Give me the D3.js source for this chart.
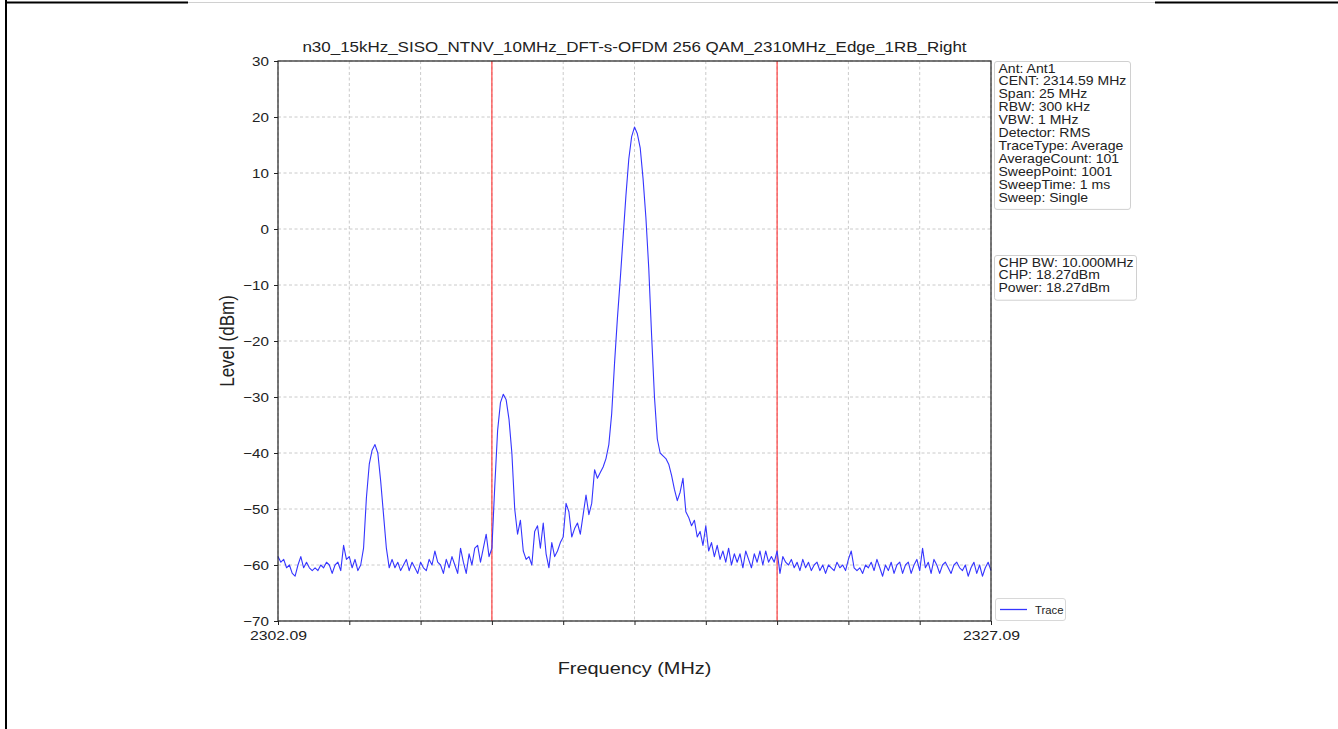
<!DOCTYPE html>
<html>
<head>
<meta charset="utf-8">
<script src="https://cdn.jsdelivr.net/npm/d3@7"></script>
<style>
  html, body { margin: 0; padding: 0; background: #ffffff; }
  svg { display: block; font-family: "Liberation Sans", Arial, sans-serif; }
</style>
</head>
<body>
<svg id="chart" width="1338" height="729"></svg>
<script>
// ---------------- data ----------------
const chartTitle = "n30_15kHz_SISO_NTNV_10MHz_DFT-s-OFDM 256 QAM_2310MHz_Edge_1RB_Right";
const sweepStart = 2302.09;   // MHz
const sweepStop = 2327.09;    // MHz
const yDomain = [-70, 30];
const yTickValues = [-70, -60, -50, -40, -30, -20, -10, 0, 10, 20, 30];
const xTickValues = [2302.09, 2304.59, 2307.09, 2309.59, 2312.09, 2314.59, 2317.09, 2319.59, 2322.09, 2324.59, 2327.09];
const xTickLabels = ["2302.09", "", "", "", "", "", "", "", "", "", "2327.09"];
const channelEdges = [2309.59, 2319.59];   // red lines
const traceLevels = [
  -58.5, -59.5, -59, -60.5, -60, -61.5, -62, -60, -58.5, -60.5,
  -59.5, -60.5, -61, -60.5, -61, -60, -60.5, -59.5, -60, -61.5,
  -60, -59.5, -61, -56.5, -59, -58.5, -60.5, -59, -61, -60,
  -57, -48, -42, -39.5, -38.5, -40, -45, -51, -57, -60.5,
  -59, -60.5, -59.5, -61, -60, -59, -61, -59.5, -60.5, -61.5,
  -59.5, -60.5, -61, -59, -60, -57.5, -59.5, -60, -61.5, -59,
  -60.5, -58.5, -60, -61.5, -57, -59.5, -61.5, -58, -60, -57,
  -56.5, -59.5, -57, -54.5, -58.5, -57, -46, -36, -31, -29.5,
  -30.5, -34, -40, -50, -54.5, -52, -57.5, -59, -58.5, -60,
  -54, -53, -57, -52.5, -58, -60.5, -56, -58.5, -57.5, -56,
  -55, -49, -50.5, -55, -53.5, -52.5, -54.5, -51, -47.5, -51,
  -49, -43, -44.5, -43.5, -42.5, -41, -38.5, -33, -24, -16,
  -9, -1.5, 6, 12.5, 16.5, 18.2, 17, 14.5, 9, 2,
  -7, -19, -30, -37.5, -40, -40.5, -41, -42, -44, -46.5,
  -48.5, -47, -44.5, -50.5, -51.5, -53, -52, -55, -54, -56.5,
  -53, -57.5, -56, -58.5, -56.5, -59, -57.5, -59.5, -57, -60,
  -58, -59.5, -58, -60.5, -57.5, -59, -60.5, -58, -59.5, -57.5,
  -60, -57.5, -59.5, -58.5, -59.5, -57.5, -61.5, -58.5, -59.5, -60,
  -59, -60.5, -59.5, -61, -59, -60.5, -59.5, -61, -60, -59.5,
  -61, -60, -61.5, -60, -60.5, -61, -59.5, -60.5, -60, -61,
  -59, -57.5, -60.5, -61, -60.5, -61.5, -60, -60.5, -59.5, -61,
  -59, -60.5, -62, -60, -61, -59.5, -61.5, -60, -59.5, -61.5,
  -60, -59.5, -61.5, -60, -59, -61, -57, -60.5, -59.5, -61.5,
  -59, -60, -61.5, -60, -59.5, -60.5, -61.5, -60, -59.5, -60.5,
  -61, -60, -62, -60.5, -59.5, -61.5, -60, -62, -60.5, -59.5,
  -61
];
const infoLines = [
  "Ant: Ant1", "CENT: 2314.59 MHz", "Span: 25 MHz", "RBW: 300 kHz", "VBW: 1 MHz",
  "Detector: RMS", "TraceType: Average", "AverageCount: 101", "SweepPoint: 1001",
  "SweepTime: 1 ms", "Sweep: Single"
];
const powerLines = ["CHP BW: 10.000MHz", "CHP: 18.27dBm", "Power: 18.27dBm"];
const legendLabel = "Trace";

// ---------------- drawing ----------------
const SX = 1.17;  // horizontal stretch of the text in the reference picture
const svg = d3.select("#chart");
const M = { left: 278, right: 991, top: 61, bottom: 621 };

const x = d3.scaleLinear().domain([sweepStart, sweepStop]).range([M.left, M.right]);
const y = d3.scaleLinear().domain(yDomain).range([M.bottom, M.top]);

function stretchedText(parent, tx, ty, str, size, anchor, sx) {
  return parent.append("text")
    .attr("transform", `translate(${tx},${ty}) scale(${sx || SX},1)`)
    .attr("text-anchor", anchor || "start")
    .attr("font-size", size).attr("fill", "#222").text(str);
}

// page border (document frame)
svg.append("line").attr("x1", 6).attr("x2", 6).attr("y1", 0).attr("y2", 729)
  .attr("stroke", "#000").attr("stroke-width", 2);
svg.append("line").attr("x1", 5).attr("x2", 188).attr("y1", 2.5).attr("y2", 2.5)
  .attr("stroke", "#000").attr("stroke-width", 2);
svg.append("line").attr("x1", 188).attr("x2", 1155).attr("y1", 2.5).attr("y2", 2.5)
  .attr("stroke", "#d0d0d0").attr("stroke-width", 1);
svg.append("line").attr("x1", 1155).attr("x2", 1338).attr("y1", 2.5).attr("y2", 2.5)
  .attr("stroke", "#000").attr("stroke-width", 2);

// grid
const grid = svg.append("g").attr("class", "grid");
grid.selectAll("line.h").data(yTickValues).join("line")
  .attr("x1", M.left).attr("x2", M.right)
  .attr("y1", d => y(d)).attr("y2", d => y(d))
  .attr("stroke", "#c4c4c4").attr("stroke-width", 0.9).attr("stroke-dasharray", "3,2.5");
grid.selectAll("line.v").data(xTickValues).join("line")
  .attr("y1", M.top).attr("y2", M.bottom)
  .attr("x1", d => x(d)).attr("x2", d => x(d))
  .attr("stroke", "#c4c4c4").attr("stroke-width", 0.9).attr("stroke-dasharray", "3,2.5");

// channel edges
svg.selectAll("line.edge").data(channelEdges).join("line")
  .attr("class", "edge")
  .attr("x1", d => x(d)).attr("x2", d => x(d))
  .attr("y1", M.top).attr("y2", M.bottom)
  .attr("stroke", "#ff3030").attr("stroke-width", 1.1);

// trace
const step = (sweepStop - sweepStart) / (traceLevels.length - 1);
const line = d3.line().x((d, i) => x(sweepStart + i * step)).y(d => y(d));
svg.append("path").datum(traceLevels)
  .attr("d", line)
  .attr("fill", "none")
  .attr("stroke", "#3535ff")
  .attr("stroke-width", 1.1)
  .attr("stroke-linejoin", "round");

// axes
const yAxis = d3.axisLeft(y).tickValues(yTickValues).tickSize(4).tickPadding(5);
const gy = svg.append("g").attr("transform", `translate(${M.left},0)`).call(yAxis);
gy.select(".domain").remove();
gy.selectAll(".tick line").attr("stroke", "#222");
gy.selectAll("text").attr("font-size", 13).attr("fill", "#222")
  .attr("font-family", "Liberation Sans, Arial, sans-serif")
  .each(function () {
    const t = d3.select(this);
    const ox = +t.attr("x");
    t.attr("x", ox / SX).attr("transform", `scale(${SX},1)`);
  });

const xAxis = d3.axisBottom(x).tickValues(xTickValues)
  .tickFormat((d, i) => xTickLabels[i]).tickSize(4).tickPadding(5);
const gx = svg.append("g").attr("transform", `translate(0,${M.bottom})`).call(xAxis);
gx.select(".domain").remove();
gx.selectAll(".tick line").attr("stroke", "#222");
gx.selectAll("text").attr("font-size", 13.5).attr("fill", "#222")
  .attr("font-family", "Liberation Sans, Arial, sans-serif")
  .attr("transform", `scale(${SX},1)`);

// frame
svg.append("rect").attr("x", M.left).attr("y", M.top)
  .attr("width", M.right - M.left).attr("height", M.bottom - M.top)
  .attr("fill", "none").attr("stroke", "#222").attr("stroke-width", 1.2);

// title and labels
stretchedText(svg, (M.left + M.right) / 2, 52, chartTitle, 14.5, "middle");
stretchedText(svg, (M.left + M.right) / 2, 674, "Frequency (MHz)", 17, "middle");
svg.append("text")
  .attr("transform", `translate(234,${(M.top + M.bottom) / 2}) scale(${SX},1) rotate(-90)`)
  .attr("text-anchor", "middle").attr("font-size", 17).attr("fill", "#222")
  .text("Level (dBm)");

// info box
function infoBox(lines, bx, by, bw) {
  const lh = 12.9;
  const bh = lines.length * lh + 6;
  svg.append("rect").attr("x", bx).attr("y", by).attr("width", bw).attr("height", bh)
    .attr("rx", 2.5).attr("fill", "#fff").attr("stroke", "#d0d0d0").attr("stroke-width", 1);
  const g = svg.append("g");
  lines.forEach((d, i) => stretchedText(g, bx + 4, by + 11 + i * lh, d, 12, "start"));
}
infoBox(infoLines, 994.5, 61.5, 136);
infoBox(powerLines, 994.5, 255.5, 142);

// legend
const lg = svg.append("g");
lg.append("rect").attr("x", 995.5).attr("y", 598.5).attr("width", 70).attr("height", 22)
  .attr("rx", 2.5).attr("fill", "#fff").attr("stroke", "#d8d8d8");
lg.append("line").attr("x1", 1000).attr("x2", 1027).attr("y1", 609.5).attr("y2", 609.5)
  .attr("stroke", "#3535ff").attr("stroke-width", 1.3);
stretchedText(lg, 1035, 613.5, legendLabel, 10.5, "start", 1.08);
</script>
</body>
</html>
